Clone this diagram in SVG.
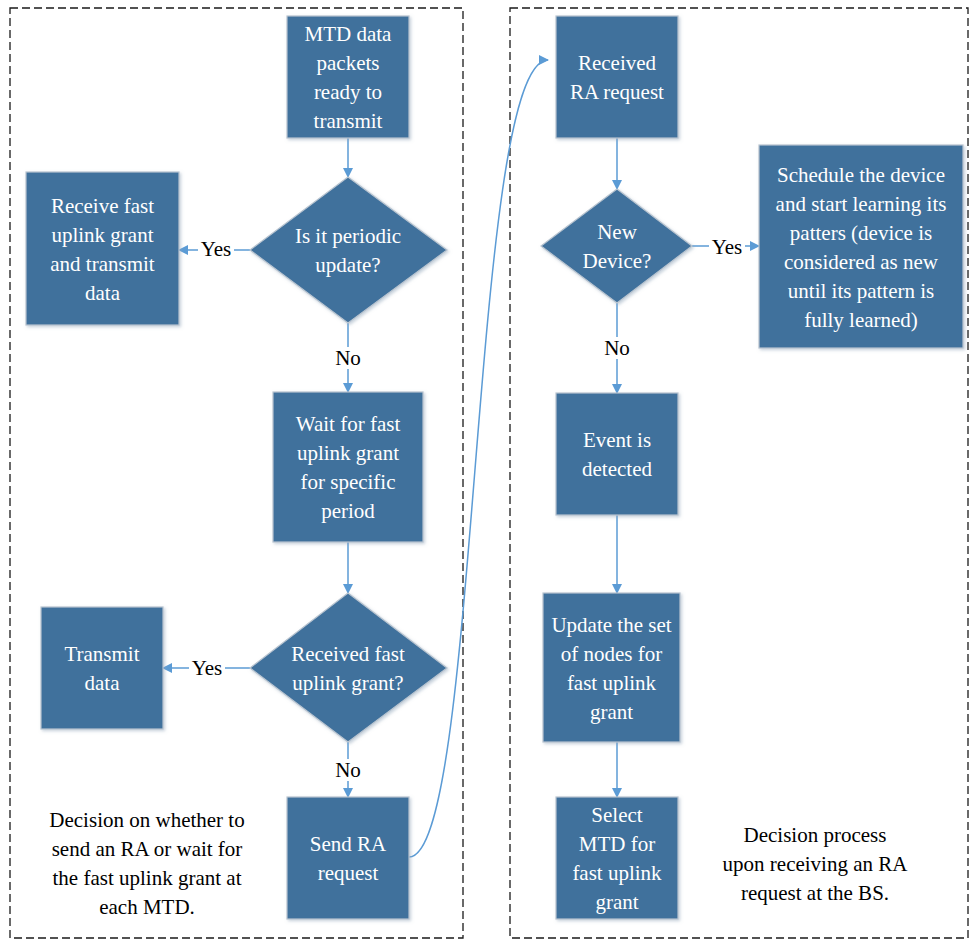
<svg xmlns="http://www.w3.org/2000/svg" width="971" height="942" viewBox="0 0 971 942" font-family="Liberation Serif, Times New Roman, serif">
<style>
.frame{fill:none;stroke:#1a1a1a;stroke-width:1.3;stroke-dasharray:8,4}
.node{fill:#41719c;stroke:#b8c4d0;stroke-width:1.2;filter:url(#sh)}
.nt{font-size:21px;fill:#ffffff;text-anchor:middle}
.lbl{font-size:21px;fill:#000000;text-anchor:middle}
.conn{fill:none;stroke:#5b9bd5;stroke-width:1.5}
.bg{fill:#ffffff}
</style>
<defs>
<marker id="ah" markerWidth="10" markerHeight="10" refX="9" refY="5" orient="auto" markerUnits="userSpaceOnUse">
<path d="M0,0 L10,5 L0,10 Z" fill="#5b9bd5"/>
</marker>
<filter id="sh" x="-10%" y="-10%" width="125%" height="125%">
<feDropShadow dx="1.5" dy="1.5" stdDeviation="1.5" flood-color="#8fa3b8" flood-opacity="0.5"/>
</filter>
</defs>
<rect width="971" height="942" fill="#ffffff"/>
<rect class="frame" x="10" y="8" width="453" height="930"/>
<rect class="frame" x="510" y="8" width="458" height="930"/>

<g id="connectors">
<path class="conn" d="M348,138 L348,177" marker-end="url(#ah)"/>
<path class="conn" d="M250,250 L179,250" marker-end="url(#ah)"/>
<path class="conn" d="M348,323 L348,392" marker-end="url(#ah)"/>
<path class="conn" d="M348,542 L348,593" marker-end="url(#ah)"/>
<path class="conn" d="M250,668 L163,668" marker-end="url(#ah)"/>
<path class="conn" d="M348,742 L348,797" marker-end="url(#ah)"/>
<path class="conn" d="M409,857 C480,857 470,60 548,60" marker-end="url(#ah)"/>
<path class="conn" d="M617,138 L617,189" marker-end="url(#ah)"/>
<path class="conn" d="M692,246 L759,246" marker-end="url(#ah)"/>
<path class="conn" d="M617,303 L617,393" marker-end="url(#ah)"/>
<path class="conn" d="M617,515 L617,593" marker-end="url(#ah)"/>
<path class="conn" d="M617,742 L617,797" marker-end="url(#ah)"/>
<rect class="bg" x="198" y="238" width="36" height="22"/>
<text class="lbl" x="216" y="256">Yes</text>
<rect class="bg" x="334" y="347" width="28" height="22"/>
<text class="lbl" x="348" y="365">No</text>
<rect class="bg" x="189" y="657" width="36" height="22"/>
<text class="lbl" x="207" y="675">Yes</text>
<rect class="bg" x="334" y="759" width="28" height="22"/>
<text class="lbl" x="348" y="777">No</text>
<rect class="bg" x="709" y="235" width="36" height="22"/>
<text class="lbl" x="727" y="254">Yes</text>
<rect class="bg" x="603" y="337" width="28" height="22"/>
<text class="lbl" x="617" y="355">No</text>
</g>

<g id="n-mtd">
<rect class="node" x="287" y="16" width="122" height="122"/>
<text class="nt" x="348" y="41">MTD data</text>
<text class="nt" x="348" y="70">packets</text>
<text class="nt" x="348" y="99">ready to</text>
<text class="nt" x="348" y="128">transmit</text>
</g>
<g id="n-periodic">
<polygon class="node" points="348,177 447,250 348,323 250,250"/>
<text class="nt" x="348" y="243">Is it periodic</text>
<text class="nt" x="348" y="272">update?</text>
</g>
<g id="n-receive">
<rect class="node" x="26" y="172" width="153" height="153"/>
<text class="nt" x="102.5" y="213">Receive fast</text>
<text class="nt" x="102.5" y="242">uplink grant</text>
<text class="nt" x="102.5" y="271">and transmit</text>
<text class="nt" x="102.5" y="300">data</text>
</g>
<g id="n-wait">
<rect class="node" x="273" y="392" width="150" height="150"/>
<text class="nt" x="348" y="431">Wait for fast</text>
<text class="nt" x="348" y="460">uplink grant</text>
<text class="nt" x="348" y="489">for specific</text>
<text class="nt" x="348" y="518">period</text>
</g>
<g id="n-received-grant">
<polygon class="node" points="348,593 447,668 348,742 250,668"/>
<text class="nt" x="348" y="661">Received fast</text>
<text class="nt" x="348" y="690">uplink grant?</text>
</g>
<g id="n-transmit">
<rect class="node" x="41" y="607" width="122" height="122"/>
<text class="nt" x="102" y="661">Transmit</text>
<text class="nt" x="102" y="690">data</text>
</g>
<g id="n-send">
<rect class="node" x="287" y="797" width="122" height="122"/>
<text class="nt" x="348" y="851">Send RA</text>
<text class="nt" x="348" y="880">request</text>
</g>
<g id="t-left-caption">
<text class="lbl" x="147" y="827">Decision on whether to</text>
<text class="lbl" x="147" y="856">send an RA or wait for</text>
<text class="lbl" x="147" y="885">the fast uplink grant at</text>
<text class="lbl" x="147" y="914">each MTD.</text>
</g>

<g id="n-received-ra">
<rect class="node" x="556" y="16" width="122" height="122"/>
<text class="nt" x="617" y="70">Received</text>
<text class="nt" x="617" y="99">RA request</text>
</g>
<g id="n-new-device">
<polygon class="node" points="617,189 692,246 617,303 541,246"/>
<text class="nt" x="617" y="239">New</text>
<text class="nt" x="617" y="268">Device?</text>
</g>
<g id="n-schedule">
<rect class="node" x="759" y="145" width="204" height="203"/>
<text class="nt" x="861" y="182">Schedule the device</text>
<text class="nt" x="861" y="211">and start learning its</text>
<text class="nt" x="861" y="240">patters (device is</text>
<text class="nt" x="861" y="269">considered as new</text>
<text class="nt" x="861" y="298">until its pattern is</text>
<text class="nt" x="861" y="327">fully learned)</text>
</g>
<g id="n-event">
<rect class="node" x="556" y="393" width="122" height="122"/>
<text class="nt" x="617" y="447">Event is</text>
<text class="nt" x="617" y="476">detected</text>
</g>
<g id="n-update">
<rect class="node" x="543" y="593" width="137" height="149"/>
<text class="nt" x="611.5" y="632">Update the set</text>
<text class="nt" x="611.5" y="661">of nodes for</text>
<text class="nt" x="611.5" y="690">fast uplink</text>
<text class="nt" x="611.5" y="719">grant</text>
</g>
<g id="n-select">
<rect class="node" x="556" y="797" width="122" height="122"/>
<text class="nt" x="617" y="822">Select</text>
<text class="nt" x="617" y="851">MTD for</text>
<text class="nt" x="617" y="880">fast uplink</text>
<text class="nt" x="617" y="909">grant</text>
</g>
<g id="t-right-caption">
<text class="lbl" x="815" y="842">Decision process</text>
<text class="lbl" x="815" y="871">upon receiving an RA</text>
<text class="lbl" x="815" y="900">request at the BS.</text>
</g>
</svg>
